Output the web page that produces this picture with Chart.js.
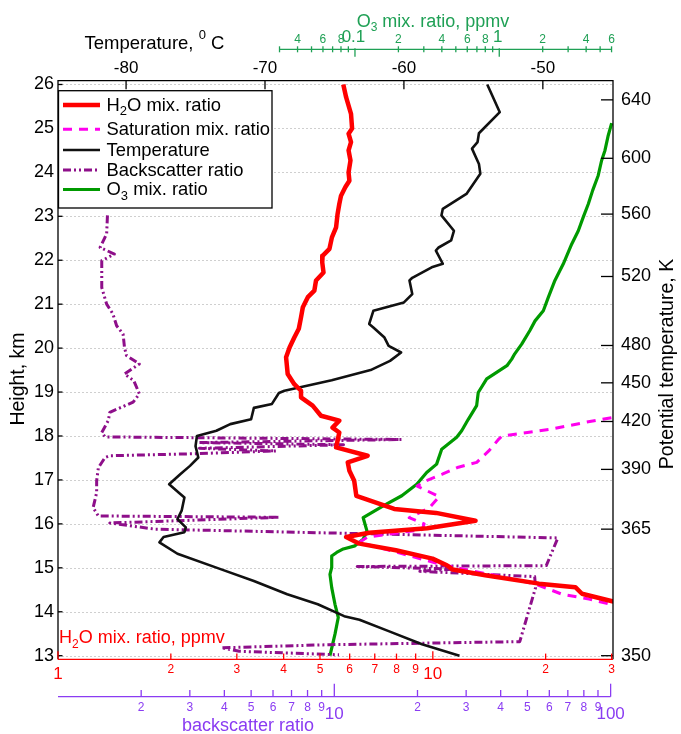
<!DOCTYPE html>
<html>
<head>
<meta charset="utf-8">
<script src="https://cdn.jsdelivr.net/npm/chart.js@4.4.0/dist/chart.umd.min.js"></script>
<style>
html, body { margin: 0; padding: 0; background: #fff; }
</style>
</head>
<body>
<canvas id="c" width="681" height="734"></canvas>
<script>
// heights in km
const h2oHeight = [26.0, 25.71, 25.33, 25.0, 24.88, 24.69, 24.5, 24.27, 24.0, 23.81,
    23.66, 23.47, 23.28, 23.05, 22.75, 22.52, 22.26, 22.1, 21.95, 21.72,
    21.54, 21.31, 21.16, 20.93, 20.7, 20.44, 20.24, 20.02, 19.79, 19.41,
    19.18, 19.03, 18.88, 18.69, 18.46, 18.35, 18.19, 18.08, 17.89, 17.74,
    17.55, 17.4, 17.21, 16.98, 16.64, 16.34, 16.25, 16.07, 15.9, 15.8,
    15.7, 15.55, 15.4, 15.21, 15.06, 14.96, 14.83, 14.64, 14.56, 14.41,
    14.24, 14.2];
const h2oPpmv = [5.77, 5.87, 6.05, 6.09, 5.96, 6.05, 5.96, 6.03, 5.96, 5.99,
    5.84, 5.69, 5.63, 5.57, 5.52, 5.38, 5.30, 5.08, 5.07, 5.11,
    4.88, 4.83, 4.64, 4.50, 4.45, 4.39, 4.27, 4.15, 4.06, 4.10,
    4.27, 4.45, 4.45, 4.78, 5.03, 5.63, 5.40, 5.63, 5.57, 5.52,
    6.70, 5.93, 5.99, 6.17, 6.25, 7.89, 10.2, 13.0, 9.66, 6.77,
    5.87, 6.37, 7.97, 9.98, 10.9, 11.3, 13.8, 19.2, 24.0, 25.0,
    30.1, 32];

const satHeight = [18.48, 18.31, 18.16, 18.0, 17.93, 17.66, 17.4, 17.29, 17.13, 16.98,
    16.86, 16.62, 16.36, 16.14, 16.0, 15.87, 15.7, 15.58, 15.32, 15.09,
    14.93, 14.78, 14.63, 14.4, 14.29, 14.17, 14.12];
const satPpmv = [33, 25.5, 20.8, 15.3, 15.0, 14.1, 13.1, 11.7, 10.6, 9.58,
    9.08, 10.4, 9.78, 8.65, 9.48, 9.37, 6.69, 6.37, 8.30, 10.4,
    12.7, 15.6, 18.8, 22.1, 26.1, 29.8, 32];

const tempHeight = [26.0, 25.37, 24.89, 24.69, 24.54, 24.19, 23.97, 23.51, 23.17, 23.02,
    22.67, 22.45, 22.29, 22.22, 21.92, 21.84, 21.6, 21.54, 21.23, 21.04,
    20.85, 20.55, 20.47, 20.24, 20.05, 19.9, 19.71, 19.5, 19.27, 19.03,
    18.98, 18.73, 18.64, 18.38, 18.27, 18.12, 18.0, 17.77, 17.51, 17.32,
    17.13, 16.9, 16.71, 16.6, 16.3, 16.11, 15.92, 15.81, 15.7, 15.58,
    15.32, 14.97, 14.7, 14.4, 14.17, 13.9, 13.82, 13.56, 13.26, 13.0];
const tempC = [-54.0, -53.1, -54.6, -54.7, -55.1, -54.6, -54.5, -55.5, -57.2, -57.3,
    -56.4, -56.6, -57.5, -57.7, -57.2, -58.0, -59.4, -59.6, -59.4, -60.0,
    -62.2, -62.5, -62.2, -61.4, -61.1, -60.2, -61.0, -62.4, -65.2, -68.6,
    -69.0, -69.5, -70.8, -71.0, -72.5, -73.5, -74.9, -75.0, -74.8, -75.4,
    -76.1, -76.9, -76.2, -75.8, -76.0, -76.3, -75.7, -75.8, -77.3, -77.6,
    -76.3, -73.2, -70.8, -68.4, -66.2, -64.3, -63.2, -61.1, -58.7, -56.0];

const bsHeight = [23.02, 22.6, 22.29, 22.14, 21.99, 21.38, 21.0, 20.78, 20.51, 20.32,
    20.02, 19.83, 19.64, 19.41, 19.26, 18.96, 18.77, 18.54, 18.35, 18.08,
    17.98, 17.92, 17.85, 17.8, 17.72, 17.66, 17.6, 17.55, 17.51, 17.28,
    16.98, 16.71, 16.37, 16.18, 16.15, 16.02, 15.88, 15.68, 15.05, 15.03,
    14.97, 14.92, 14.8, 14.55, 13.32, 13.25, 13.18, 13.1, 13.02];
const bsRatio = [1.51, 1.50, 1.42, 1.60, 1.44, 1.44, 1.50, 1.58, 1.63, 1.72,
    1.74, 1.77, 1.97, 1.74, 1.88, 1.97, 1.87, 1.54, 1.52, 1.44,
    1.48, 17.5, 3.25, 10.8, 3.25, 6.15, 3.25, 1.54, 1.48, 1.40,
    1.38, 1.38, 1.34, 1.40, 6.31, 1.54, 2.24, 64.4, 58.5, 12.1,
    27.0, 20.4, 53.1, 53.5, 46.9, 9.55, 3.90, 4.53, 10.4];

const o3Height = [25.12, 24.84, 24.5, 24.27, 23.93, 23.59, 23.28, 22.98, 22.67, 22.37,
    21.92, 21.54, 21.16, 20.85, 20.62, 20.4, 20.09, 19.87, 19.75, 19.6,
    19.3, 18.99, 18.69, 18.38, 18.12, 17.97, 17.7, 17.36, 17.17, 16.9,
    16.64, 16.41, 16.14, 15.84, 15.65, 15.5, 15.43, 15.35, 15.27, 15.01,
    14.85, 14.55, 14.17, 13.87, 13.49, 13.0];
const o3Ppmv = [6.01, 5.69, 5.40, 5.12, 4.85, 4.44, 4.14, 3.82, 3.53, 3.18,
    2.78, 2.43, 2.19, 2.02, 1.77, 1.63, 1.43, 1.28, 1.22, 1.13,
    0.818, 0.715, 0.697, 0.61, 0.549, 0.507, 0.399, 0.368, 0.314, 0.268,
    0.211, 0.157, 0.114, 0.121, 0.114, 0.1, 0.083, 0.0747, 0.069, 0.069,
    0.0671, 0.069, 0.0727, 0.0766, 0.0727, 0.0671];

// axis ticks
const heightTicks = [13, 14, 15, 16, 17, 18, 19, 20, 21, 22, 23, 24, 25, 26];
const thetaK = [350, 365, 390, 420, 450, 480, 520, 560, 600, 640];
const thetaHeight = [13.0, 15.88, 17.24, 18.33, 19.21, 20.06, 21.63, 23.05, 24.32, 25.65];
const tempTicks = [-80, -70, -60, -50];
const o3Ticks = [0.03, 0.04, 0.05, 0.06, 0.07, 0.08, 0.09, 0.1, 0.2, 0.3, 0.4, 0.5, 0.6, 0.7, 0.8, 0.9, 1, 2, 3, 4, 5, 6];
const o3Labels = ['', '4', '', '6', '', '8', '', '0.1', '2', '', '4', '', '6', '', '8', '', '1', '2', '', '4', '', '6'];
const h2oTicks = [1, 2, 3, 4, 5, 6, 7, 8, 9, 10, 20, 30];
const h2oLabels = ['1', '2', '3', '4', '5', '6', '7', '8', '9', '10', '2', '3'];
const bsTicks = [2, 3, 4, 5, 6, 7, 8, 9, 10, 20, 30, 40, 50, 60, 70, 80, 90, 100];
const bsLabels = ['2', '3', '4', '5', '6', '7', '8', '9', '10', '2', '3', '4', '5', '6', '7', '8', '9', '100'];

const FAM = '"Liberation Sans", Arial, sans-serif';
const RED = '#ff0000', SAT = '#ff00ee', BLK = '#111111', BS = '#8e0f8a', O3 = '#009a00';
const O3AX = '#1fa055', BSAX = '#8a3cf2';

function pts(xs, ys) {
    return xs.map((v, i) => ({x: v, y: ys[i]}));
}

function rich(ctx, parts, x, y, size, align, color) {
    const small = Math.round(size * 0.68);
    let w = 0;
    const ws = parts.map(p => {
        ctx.font = (p[1] ? small : size) + 'px ' + FAM;
        const m = ctx.measureText(p[0]).width;
        w += m;
        return m;
    });
    let cx = align === 'center' ? x - w / 2 : x;
    ctx.fillStyle = color;
    ctx.textAlign = 'left';
    ctx.textBaseline = 'alphabetic';
    parts.forEach((p, i) => {
        ctx.font = (p[1] ? small : size) + 'px ' + FAM;
        const dy = p[1] === 1 ? size * 0.26 : p[1] === 2 ? -size * 0.58 : 0;
        ctx.fillText(p[0], cx, y + dy);
        cx += ws[i];
    });
}

function seg(ctx, x1, y1, x2, y2) {
    ctx.beginPath();
    ctx.moveTo(x1, y1);
    ctx.lineTo(x2, y2);
    ctx.stroke();
}

function txt(ctx, s, x, y, size, color, align, base) {
    ctx.font = size + 'px ' + FAM;
    ctx.fillStyle = color;
    ctx.textAlign = align;
    ctx.textBaseline = base || 'alphabetic';
    ctx.fillText(s, x, y);
}

const axesPlugin = {
    id: 'axes',
    beforeDatasetsDraw(chart) {
        const {ctx, chartArea: a, scales} = chart;
        ctx.save();
        ctx.strokeStyle = '#cfcfcf';
        ctx.lineWidth = 1;
        ctx.setLineDash([2, 2]);
        heightTicks.forEach(k => {
            const y = Math.round(scales.y.getPixelForValue(k)) + 0.5;
            seg(ctx, a.left, y, a.right, y);
        });
        ctx.restore();
    },
    afterDatasetsDraw(chart) {
        const {ctx, chartArea: a, scales} = chart;
        const sy = scales.y, sT = scales.xTemp, sO = scales.xO3, sH = scales.xH2O, sB = scales.xBS;
        ctx.save();
        ctx.setLineDash([]);

        // frame
        ctx.strokeStyle = '#000';
        ctx.lineWidth = 1.3;
        ctx.beginPath();
        ctx.moveTo(a.left, a.bottom);
        ctx.lineTo(a.left, a.top);
        ctx.lineTo(a.right, a.top);
        ctx.lineTo(a.right, a.bottom);
        ctx.stroke();

        // height axis
        heightTicks.forEach(k => {
            const y = sy.getPixelForValue(k);
            seg(ctx, a.left, y, a.left + 4.5, y);
            txt(ctx, String(k), 54, y, 18, '#000', 'right', 'middle');
        });
        // potential temperature axis
        thetaK.forEach((k, i) => {
            const y = sy.getPixelForValue(thetaHeight[i]);
            seg(ctx, a.right - 12, y, a.right, y);
            txt(ctx, String(k), 621, y, 18, '#000', 'left', 'middle');
        });
        // temperature axis
        tempTicks.forEach(t => {
            const x = sT.getPixelForValue(t);
            seg(ctx, x, a.top, x, a.top + 8.5);
            txt(ctx, String(t), x, 72.7, 17, '#000', 'center');
        });
        rich(ctx, [['Temperature, '], ['0', 2], [' C']], 84.5, 49.3, 18.5, 'left', '#000');

        // ozone axis
        const oy = 49.3;
        ctx.strokeStyle = O3AX;
        ctx.lineWidth = 1.3;
        seg(ctx, sO.getPixelForValue(0.03), oy, sO.getPixelForValue(6), oy);
        o3Ticks.forEach((v, i) => {
            const x = sO.getPixelForValue(v);
            const lab = o3Labels[i];
            if (lab === '0.1' || lab === '1') {
                seg(ctx, x, oy - 1, x, oy + 7.5);
                txt(ctx, lab, x - 1.5, 42.3, 17, O3AX, 'center');
            } else {
                seg(ctx, x, oy - 3, x, oy + 3);
                if (lab) txt(ctx, lab, x, 43.3, 12, O3AX, 'center');
            }
        });
        rich(ctx, [['O'], ['3', 1], [' mix. ratio, ppmv']], 433, 26.7, 18, 'center', O3AX);

        // water vapour axis
        const hy = a.bottom;
        ctx.strokeStyle = RED;
        seg(ctx, a.left, hy, a.right, hy);
        h2oTicks.forEach((v, i) => {
            const x = sH.getPixelForValue(v);
            const big = v === 1 || v === 10;
            seg(ctx, x, hy, x, hy - (big ? 8 : 5.7));
            txt(ctx, h2oLabels[i], x, big ? 679.3 : 673.3, big ? 17 : 12, RED, 'center');
        });
        rich(ctx, [['H'], ['2', 1], ['O mix. ratio, ppmv']], 59, 643.3, 18, 'left', RED);

        // backscatter axis
        const by = 696.7;
        ctx.strokeStyle = BSAX;
        seg(ctx, a.left, by, sB.getPixelForValue(100), by);
        bsTicks.forEach((v, i) => {
            const x = sB.getPixelForValue(v);
            const big = v === 10 || v === 100;
            seg(ctx, x, by, x, by - (big ? 13 : 6.7));
            txt(ctx, bsLabels[i], x, big ? 719.3 : 711, big ? 17 : 12, BSAX, 'center');
        });
        txt(ctx, 'backscatter ratio', 248, 730.7, 18, BSAX, 'center');

        // rotated axis titles
        ctx.save();
        ctx.translate(19, 379);
        ctx.rotate(-Math.PI / 2);
        txt(ctx, 'Height, km', 0, 0, 19.5, '#000', 'center', 'middle');
        ctx.restore();
        ctx.save();
        ctx.translate(668, 364);
        ctx.rotate(-Math.PI / 2);
        txt(ctx, 'Potential temperature, K', 0, 0, 19.5, '#000', 'center', 'middle');
        ctx.restore();

        // legend
        ctx.fillStyle = '#fff';
        ctx.fillRect(58.5, 90.7, 213.5, 117.3);
        ctx.strokeStyle = '#000';
        ctx.lineWidth = 1.3;
        ctx.strokeRect(58.5, 90.7, 213.5, 117.3);
        const rows = [
            {ds: 0, base: 110.7, y: 105, parts: [['H'], ['2', 1], ['O mix. ratio']]},
            {ds: 1, base: 135, y: 129.3, parts: [['Saturation mix. ratio']]},
            {ds: 2, base: 156, y: 150, parts: [['Temperature']]},
            {ds: 3, base: 176, y: 170, parts: [['Backscatter ratio']]},
            {ds: 4, base: 195, y: 189.5, parts: [['O'], ['3', 1], [' mix. ratio']]}
        ];
        rows.forEach(r => {
            const d = chart.data.datasets[r.ds];
            ctx.strokeStyle = d.borderColor;
            ctx.lineWidth = d.borderWidth;
            ctx.setLineDash(d.borderDash || []);
            ctx.lineCap = 'butt';
            seg(ctx, 63, r.y, 100, r.y);
            ctx.setLineDash([]);
            rich(ctx, r.parts, 106.5, r.base, 18.4, 'left', '#000');
        });
        ctx.restore();
    }
};

const common = {showLine: true, pointRadius: 0, yAxisID: 'y', tension: 0, borderJoinStyle: 'round'};

new Chart(document.getElementById('c'), {
    type: 'scatter',
    data: {
        datasets: [
            Object.assign({label: 'H2O mix. ratio', data: pts(h2oPpmv, h2oHeight), xAxisID: 'xH2O',
                borderColor: RED, borderWidth: 4.5}, common),
            Object.assign({label: 'Saturation mix. ratio', data: pts(satPpmv, satHeight), xAxisID: 'xH2O',
                borderColor: SAT, borderWidth: 3, borderDash: [9, 7]}, common),
            Object.assign({label: 'Temperature', data: pts(tempC, tempHeight), xAxisID: 'xTemp',
                borderColor: BLK, borderWidth: 2.6}, common),
            Object.assign({label: 'Backscatter ratio', data: pts(bsRatio, bsHeight), xAxisID: 'xBS',
                borderColor: BS, borderWidth: 3, borderDash: [8, 3, 2, 3, 2, 3]}, common),
            Object.assign({label: 'O3 mix. ratio', data: pts(o3Ppmv, o3Height), xAxisID: 'xO3',
                borderColor: O3, borderWidth: 3.2}, common)
        ]
    },
    options: {
        responsive: false,
        animation: false,
        devicePixelRatio: 1,
        events: [],
        layout: {padding: {left: 58, right: 68, top: 80.7, bottom: 74.7}},
        plugins: {legend: {display: false}, tooltip: {enabled: false}},
        scales: {
            y: {type: 'linear', min: 12.918, max: 26.086, display: false},
            xTemp: {type: 'linear', axis: 'x', position: 'top', min: -84.9, max: -44.95, display: false},
            xO3: {type: 'logarithmic', axis: 'x', position: 'top', min: 0.000875, max: 6.14, display: false},
            xH2O: {type: 'logarithmic', axis: 'x', position: 'bottom', min: 1, max: 30.25, display: false},
            xBS: {type: 'logarithmic', axis: 'x', position: 'bottom', min: 1, max: 102, display: false}
        }
    },
    plugins: [axesPlugin]
});
</script>
</body>
</html>
